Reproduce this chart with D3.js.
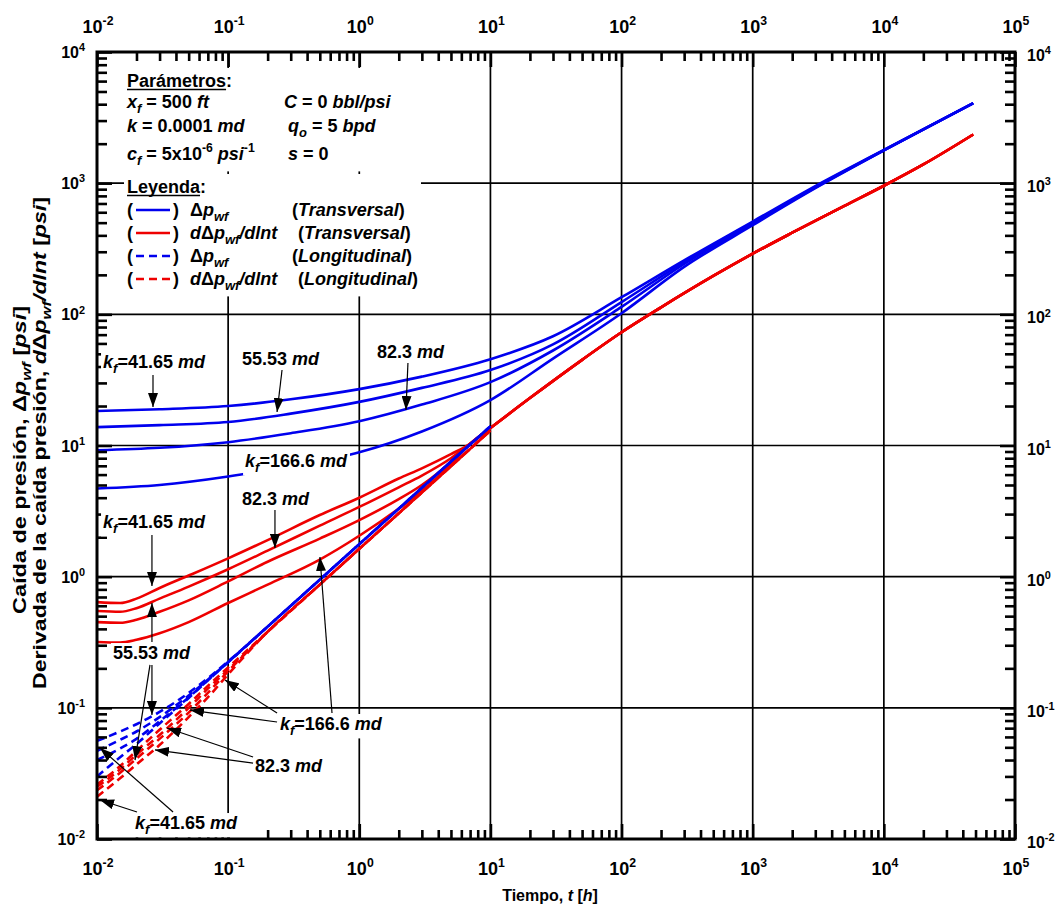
<!DOCTYPE html>
<html><head><meta charset="utf-8">
<script src="https://cdn.jsdelivr.net/npm/d3@7"></script>
<style>
body{margin:0;background:#fff;}
text{font-family:"Liberation Sans",Arial,sans-serif;font-weight:bold;fill:#000;}
</style></head><body>
<svg id="chart" width="1060" height="910"></svg>
<script>
// ---------------- DATA ----------------
const kfValues = ["41.65", "55.53", "82.3", "166.6"];
const xExponents = [-2, -1, 0, 1, 2, 3, 4, 5];
const yExponents = [-2, -1, 0, 1, 2, 3, 4];

// Transversal fracture: pressure drop (solid blue)
const tBlue = [0.01, 0.03, 0.1, 0.3, 1, 3, 10, 30, 100, 300, 1000, 3000, 10000, 48000];
const dpT41 = [18.3, 18.9, 20.0, 22.5, 26.9, 33.5, 45.5, 68, 135, 258, 510, 950, 1790, 4080];
const dpT55 = [13.8, 14.3, 15.1, 17.5, 21.5, 27.5, 37.6, 59, 124, 250, 500, 935, 1785, 4075];
const dpT82 = [9.2, 9.6, 10.6, 12.4, 15.3, 20.5, 30.4, 53, 114, 242, 490, 925, 1780, 4070];
const dpT166 = [4.7, 5.0, 5.8, 7.0, 8.9, 12.8, 22.2, 46, 102, 230, 478, 915, 1775, 4065];

// Transversal fracture: derivative (solid red)
const tRedEarly = [0.01, 0.015, 0.02, 0.03, 0.05, 0.1, 0.2, 0.5, 1, 2, 3, 5, 7];
const derT41 = [0.64, 0.63, 0.68, 0.82, 1.02, 1.38, 1.9, 2.95, 4.0, 5.6, 6.7, 8.6, 10.3];
const derT55 = [0.547, 0.54, 0.575, 0.68, 0.84, 1.14, 1.58, 2.45, 3.4, 4.8, 5.9, 8.0, 10.3];
const derT82 = [0.45, 0.445, 0.47, 0.54, 0.66, 0.92, 1.3, 1.95, 2.7, 3.9, 5.0, 7.5, 10.3];
const derT166 = [0.318, 0.315, 0.33, 0.37, 0.45, 0.63, 0.87, 1.35, 2.05, 3.3, 4.5, 7.2, 10.3];
const tRedLate = [10, 20, 50, 100, 200, 500, 1000, 2000, 5000, 10000, 20000, 48000];
const derTLate = [13.6, 23, 45, 73, 113, 196, 290, 419, 671, 956, 1389, 2350];

// Longitudinal fracture (dashed)
const tDash = [0.01, 0.015, 0.02, 0.03, 0.05, 0.07, 0.1, 0.2, 0.5, 1, 2, 5, 10];
const dpL41 = [0.056, 0.066, 0.075, 0.093, 0.13, 0.168, 0.226, 0.416, 0.949, 1.77, 3.30, 7.54, 14.0];
const dpL55 = [0.047, 0.057, 0.066, 0.085, 0.124, 0.164, 0.223, 0.416, 0.949, 1.77, 3.30, 7.54, 14.0];
const dpL82 = [0.040, 0.049, 0.058, 0.079, 0.12, 0.162, 0.223, 0.416, 0.949, 1.77, 3.30, 7.54, 14.0];
const dpL166 = [0.030, 0.042, 0.053, 0.076, 0.119, 0.162, 0.223, 0.416, 0.949, 1.77, 3.30, 7.54, 14.0];
const derL41 = [0.021, 0.029, 0.037, 0.052, 0.085, 0.12, 0.18, 0.38, 0.87, 1.63, 3.04, 6.95, 13.0];
const derL55 = [0.0235, 0.032, 0.041, 0.058, 0.092, 0.13, 0.19, 0.38, 0.87, 1.63, 3.04, 6.95, 13.0];
const derL82 = [0.025, 0.034, 0.044, 0.062, 0.10, 0.14, 0.195, 0.38, 0.87, 1.63, 3.04, 6.95, 13.0];
const derL166 = [0.026, 0.036, 0.047, 0.068, 0.107, 0.147, 0.203, 0.38, 0.87, 1.63, 3.04, 6.95, 13.0];

// Annotation anchors in log10 data units [log10 t, log10 p]
const noteLabels = [
  {kf: 0, prefix: true, at: [-1.954, 1.591]},
  {kf: 1, prefix: false, at: [-0.894, 1.614]},
  {kf: 2, prefix: false, at: [0.135, 1.667]},
  {kf: 3, prefix: true, at: [-0.871, 0.836]},
  {kf: 2, prefix: false, at: [-0.894, 0.546]},
  {kf: 0, prefix: true, at: [-1.954, 0.371]},
  {kf: 1, prefix: false, at: [-1.878, -0.628]},
  {kf: 3, prefix: true, at: [-0.605, -1.169]},
  {kf: 2, prefix: false, at: [-0.795, -1.489]},
  {kf: 0, prefix: true, at: [-1.710, -1.924]}
];
const noteArrows = [
  [[-1.573, 1.537], [-1.573, 1.293]],
  [[-0.589, 1.576], [-0.627, 1.255]],
  [[0.371, 1.629], [0.356, 1.271]],
  [[-0.643, 0.508], [-0.643, 0.218]],
  [[-1.581, 0.318], [-1.581, -0.071]],
  [[-1.581, -0.498], [-1.581, -0.201]],
  [[-1.581, -0.673], [-1.581, -1.055]],
  [[-1.596, -0.673], [-1.710, -1.398]],
  [[-0.627, -1.039], [-1.024, -0.788]],
  [[-0.627, -1.108], [-1.291, -1.017]],
  [[-0.208, -1.039], [-0.300, 0.150]],
  [[-0.810, -1.375], [-1.466, -1.154]],
  [[-0.810, -1.421], [-1.558, -1.321]],
  [[-1.420, -1.794], [-1.977, -1.306]],
  [[-1.695, -1.794], [-1.977, -1.703]]
];

// ---------------- CHART ----------------
const BLUE = "#0000ee", RED = "#ee0000";
const svg = d3.select("#chart");
const L = 97, R = 1015, T = 52, B = 839;
const x = d3.scaleLog().domain([1e-2, 1e5]).range([L, R]);
const y = d3.scaleLog().domain([1e-2, 1e4]).range([B, T]);

// grid
const gGrid = svg.append("g");
xExponents.slice(1, -1).forEach(e => {
  gGrid.append("line").attr("x1", x(10 ** e)).attr("x2", x(10 ** e)).attr("y1", T).attr("y2", B)
    .attr("stroke", "#000").attr("stroke-width", 1.7);
});
yExponents.slice(1, -1).forEach(e => {
  gGrid.append("line").attr("y1", y(10 ** e)).attr("y2", y(10 ** e)).attr("x1", L).attr("x2", R)
    .attr("stroke", "#000").attr("stroke-width", 1.7);
});

const line = d3.line().x(d => x(d[0])).y(d => y(d[1])).curve(d3.curveMonotoneX);
const zip = (ts, vs) => ts.map((t, i) => [t, vs[i]]);

const gCurves = svg.append("g").attr("fill", "none").attr("stroke-width", 2.6);
[derT41, derT55, derT82, derT166].forEach(v => {
  gCurves.append("path").attr("d", line(zip(tRedEarly, v).concat(zip(tRedLate, derTLate))))
    .attr("stroke", RED);
});
[dpT41, dpT55, dpT82, dpT166].forEach(v => {
  gCurves.append("path").attr("d", line(zip(tBlue, v))).attr("stroke", BLUE);
});
[derL41, derL55, derL82, derL166].forEach(v => {
  gCurves.append("path").attr("d", line(zip(tDash, v))).attr("stroke", RED)
    .attr("stroke-dasharray", "8,5");
});
[dpL41, dpL55, dpL82, dpL166].forEach(v => {
  gCurves.append("path").attr("d", line(zip(tDash, v))).attr("stroke", BLUE)
    .attr("stroke-dasharray", "8,5");
});

// ticks
const minorX = x.ticks().filter(v => Math.abs(Math.log10(v) - Math.round(Math.log10(v))) > 1e-6);
const minorY = y.ticks().filter(v => Math.abs(Math.log10(v) - Math.round(Math.log10(v))) > 1e-6);
const majX = xExponents.map(e => 10 ** e), majY = yExponents.map(e => 10 ** e);
function tickAxis(axis, tr, vals, size) {
  const g = svg.append("g").attr("transform", tr)
    .call(axis.tickValues(vals).tickSize(-size).tickFormat(""));
  g.select(".domain").remove();
  g.selectAll("line").attr("stroke", "#000").attr("stroke-width", 2.6);
}
tickAxis(d3.axisBottom(x), `translate(0,${B})`, minorX, 9);
tickAxis(d3.axisTop(x), `translate(0,${T})`, minorX, 9);
tickAxis(d3.axisLeft(y), `translate(${L},0)`, minorY, 10);
tickAxis(d3.axisRight(y), `translate(${R},0)`, minorY, 10);
tickAxis(d3.axisBottom(x), `translate(0,${B})`, majX, 15);
tickAxis(d3.axisTop(x), `translate(0,${T})`, majX, 15);
tickAxis(d3.axisLeft(y), `translate(${L},0)`, majY, 15);
tickAxis(d3.axisRight(y), `translate(${R},0)`, majY, 15);

// rich text helper: parts = [[text, flags]] flags: i italic, b subscript, p superscript
function rich(sel, parts, fs) {
  let shift = 0;
  parts.forEach(([txt, st]) => {
    const ts = sel.append("tspan").text(txt);
    let target = 0, size = fs;
    if (st.includes("b")) { target = fs * 0.3; size = fs * 0.72; }
    if (st.includes("p")) { target = -fs * 0.42; size = fs * 0.68; }
    ts.attr("dy", target - shift).attr("font-size", size);
    shift = target;
    if (st.includes("i")) ts.attr("font-style", "italic");
  });
  return sel;
}

// tick labels
const fsX = 18, fsY = 16;
xExponents.forEach(e => {
  [T - 19, B + 36].forEach(yb => {
    rich(svg.append("text").attr("x", x(10 ** e) + 1).attr("y", yb).attr("font-size", fsX)
      .attr("text-anchor", "middle"),
      [["10", ""], [String(e), "p"]], fsX);
  });
});
yExponents.forEach(e => {
  rich(svg.append("text").attr("x", L - 12).attr("y", y(10 ** e) + 6).attr("text-anchor", "end")
    .attr("font-size", fsY), [["10", ""], [String(e), "p"]], fsY);
  rich(svg.append("text").attr("x", R + 12).attr("y", y(10 ** e) + 9).attr("font-size", fsY),
    [["10", ""], [String(e), "p"]], fsY);
});

// axis titles
rich(svg.append("text").attr("x", 550).attr("y", 901).attr("text-anchor", "middle")
  .attr("font-size", 16), [["Tiempo, ", ""], ["t", "i"], [" [", ""], ["h", "i"], ["]", ""]], 16);
rich(svg.append("text").attr("transform", `translate(26,460) rotate(-90)`)
  .attr("text-anchor", "middle").attr("font-size", 18)
  .attr("textLength", 308).attr("lengthAdjust", "spacingAndGlyphs"),
  [["Caída de presión, Δ", ""], ["p", "i"], ["wf", "bi"], [" [", ""], ["psi", "i"], ["]", ""]], 18);
rich(svg.append("text").attr("transform", `translate(46,443) rotate(-90)`)
  .attr("text-anchor", "middle").attr("font-size", 18)
  .attr("textLength", 492).attr("lengthAdjust", "spacingAndGlyphs"),
  [["Derivada de la caída presión, ", ""], ["d", "i"], ["Δ", ""], ["p", "i"], ["wf", "bi"],
   ["/dlnt", "i"], [" [", ""], ["psi", "i"], ["]", ""]], 18);

// boxed group helper
function boxed(g, pad) {
  const bb = g.node().getBBox();
  g.insert("rect", ":first-child").attr("x", bb.x - pad[0]).attr("y", bb.y - pad[1])
    .attr("width", bb.width + 2 * pad[0]).attr("height", bb.height + 2 * pad[1]).attr("fill", "#fff");
}

// annotation labels
const FS = 18;
noteLabels.forEach(n => {
  const g = svg.append("g");
  const t = g.append("text").attr("x", x(10 ** n.at[0])).attr("y", y(10 ** n.at[1])).attr("font-size", FS);
  const parts = n.prefix ? [["k", "i"], ["f", "bi"], ["=" + kfValues[n.kf] + " ", ""], ["md", "i"]]
                         : [[kfValues[n.kf] + " ", ""], ["md", "i"]];
  rich(t, parts, FS);
  boxed(g, [2, 0]);
});

// arrows
svg.append("defs").append("marker").attr("id", "ah").attr("viewBox", "0 0 14 10")
  .attr("refX", 14).attr("refY", 5).attr("markerWidth", 14).attr("markerHeight", 10)
  .attr("markerUnits", "userSpaceOnUse").attr("orient", "auto")
  .append("path").attr("d", "M0,0 L14,5 L0,10 Z").attr("fill", "#000");
noteArrows.forEach(([a, b]) => {
  svg.append("line").attr("x1", x(10 ** a[0])).attr("y1", y(10 ** a[1]))
    .attr("x2", x(10 ** b[0])).attr("y2", y(10 ** b[1]))
    .attr("stroke", "#000").attr("stroke-width", 1.2).attr("marker-end", "url(#ah)");
});

// parameters block
function underlined(g, x0, yb, word) {
  const t = g.append("text").attr("x", x0).attr("y", yb).attr("font-size", 18).text(word);
  const w = t.node().getComputedTextLength();
  g.append("line").attr("x1", x0).attr("x2", x0 + w).attr("y1", yb + 2.5).attr("y2", yb + 2.5)
    .attr("stroke", "#000").attr("stroke-width", 1.6);
  g.append("text").attr("x", x0 + w).attr("y", yb).attr("font-size", 18).text(":");
}
const gP = svg.append("g");
underlined(gP, 127, 87, "Parámetros");
const prow = (x0, yb, parts) => rich(gP.append("text").attr("x", x0).attr("y", yb).attr("font-size", 18), parts, 18);
prow(127, 108, [["x", "i"], ["f", "bi"], [" = 500 ", ""], ["ft", "i"]]);
prow(284, 108, [["C", "i"], [" = 0 ", ""], ["bbl/psi", "i"]]);
prow(127, 132, [["k", "i"], [" = 0.0001 ", ""], ["md", "i"]]);
prow(288, 132, [["q", "i"], ["o", "bi"], [" = 5 ", ""], ["bpd", "i"]]);
prow(127, 160, [["c", "i"], ["f", "bi"], [" = 5x10", ""], ["-6", "p"], [" ", ""], ["psi", "i"], ["-1", "p"]]);
prow(288, 160, [["s", "i"], [" = 0", ""]]);
boxed(gP, [3, 3]);

// legend block
const gL = svg.append("g");
underlined(gL, 127, 193, "Leyenda");
const legRows = [
  {yb: 216, color: BLUE, dash: null, lab: [["Δ", ""], ["p", "i"], ["wf", "bi"]], x2: 292, kind: "Transversal"},
  {yb: 239, color: RED, dash: null, lab: [["d", "i"], ["Δ", ""], ["p", "i"], ["wf", "bi"], ["/dlnt", "i"]], x2: 298, kind: "Transversal"},
  {yb: 262, color: BLUE, dash: "8,5", lab: [["Δ", ""], ["p", "i"], ["wf", "bi"]], x2: 292, kind: "Longitudinal"},
  {yb: 285, color: RED, dash: "8,5", lab: [["d", "i"], ["Δ", ""], ["p", "i"], ["wf", "bi"], ["/dlnt", "i"]], x2: 298, kind: "Longitudinal"}
];
legRows.forEach(r => {
  gL.append("text").attr("x", 127).attr("y", r.yb).attr("font-size", 18).text("(");
  gL.append("line").attr("x1", 136).attr("x2", 170).attr("y1", r.yb - 6).attr("y2", r.yb - 6)
    .attr("stroke", r.color).attr("stroke-width", 2.6).attr("stroke-dasharray", r.dash);
  gL.append("text").attr("x", 173).attr("y", r.yb).attr("font-size", 18).text(")");
  rich(gL.append("text").attr("x", 190).attr("y", r.yb).attr("font-size", 18), r.lab, 18);
  rich(gL.append("text").attr("x", r.x2).attr("y", r.yb).attr("font-size", 18),
    [["(", ""], [r.kind, "i"], [")", ""]], 18);
});
boxed(gL, [3, 3]);

// frame
svg.append("rect").attr("x", L).attr("y", T).attr("width", R - L).attr("height", B - T)
  .attr("fill", "none").attr("stroke", "#000").attr("stroke-width", 3);
</script>
</body></html>
